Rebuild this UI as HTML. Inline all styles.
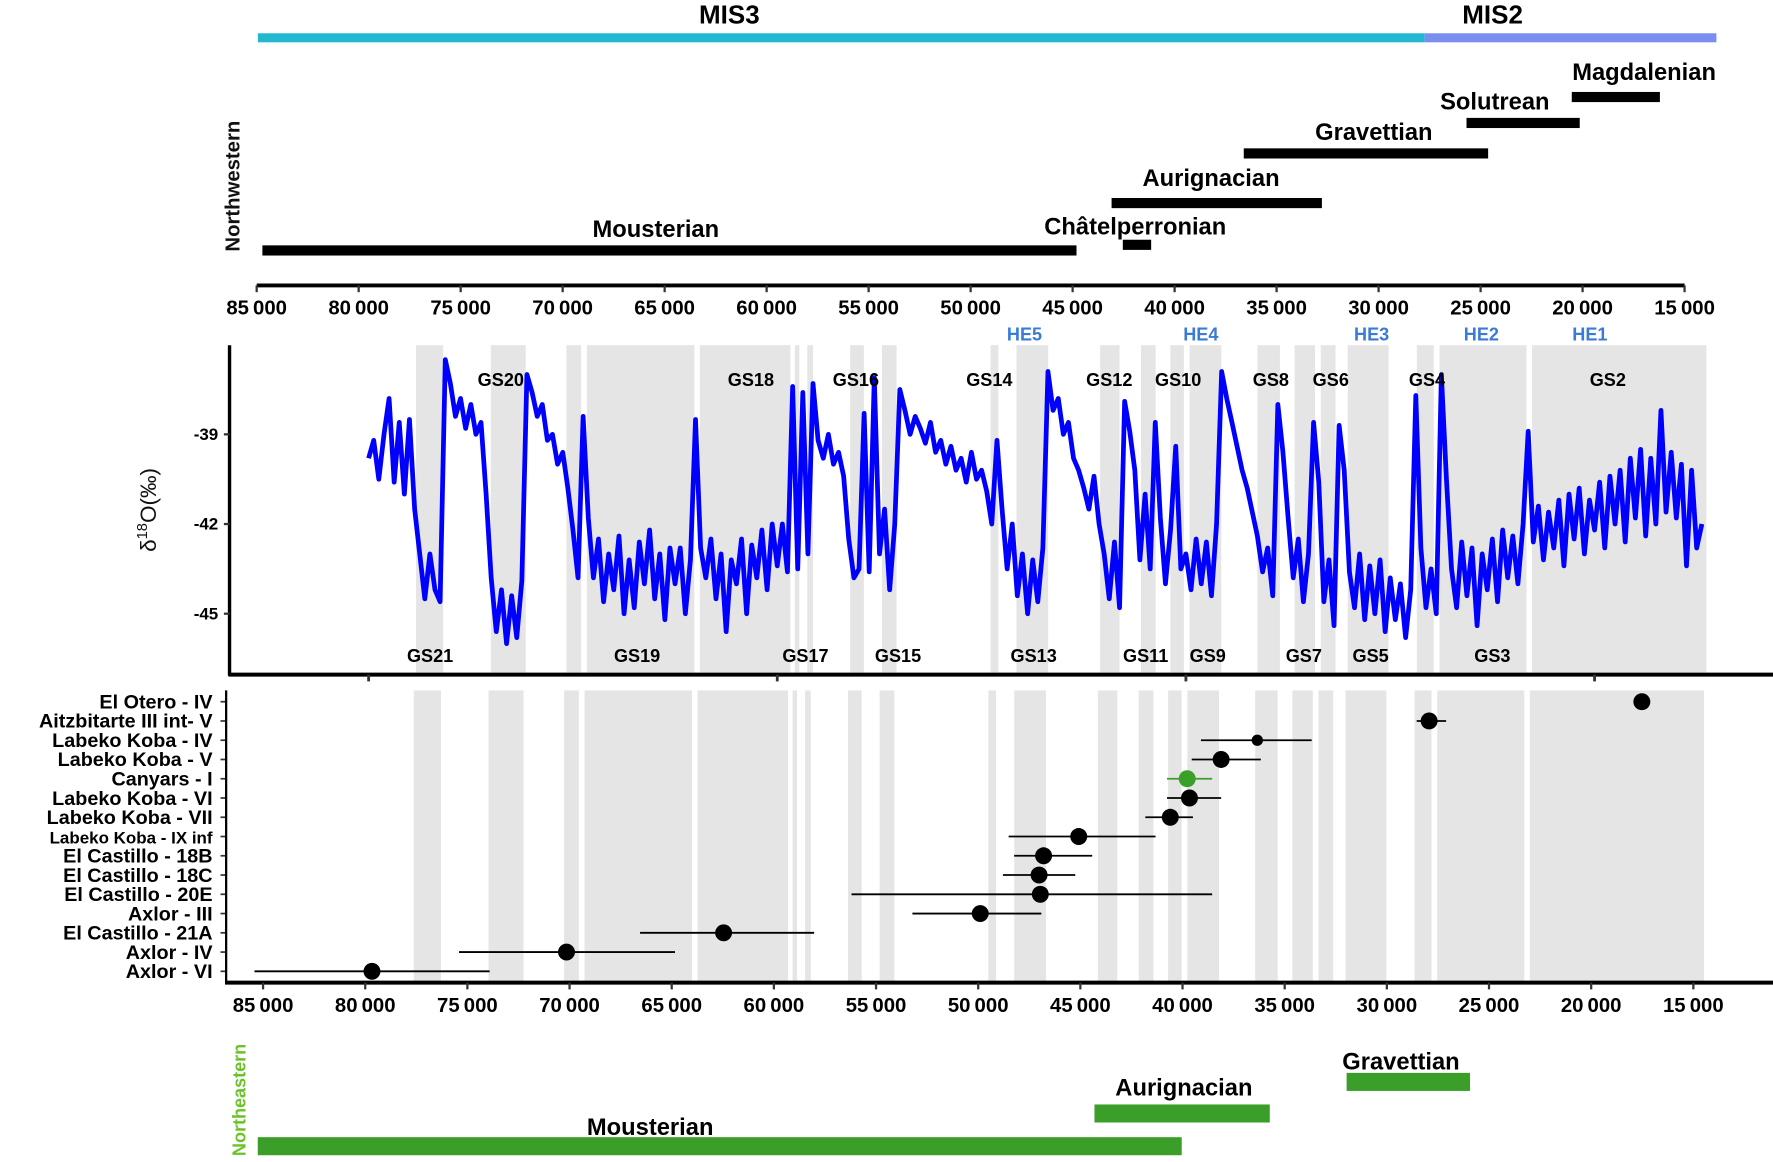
<!DOCTYPE html>
<html><head><meta charset="utf-8">
<style>
html,body{margin:0;padding:0;background:#fff;}
svg{display:block;font-family:"Liberation Sans",Arial,sans-serif;}
</style></head>
<body>
<svg id="fig" width="1773" height="1162" viewBox="0 0 1568 1030" preserveAspectRatio="none" xmlns="http://www.w3.org/2000/svg">
  <g id="gtop"></g>
  <g id="gmid"></g>
  <g id="gbot"></g>
  <g id="gne"></g>
</svg>
<script>
// ---------- data ----------
const misNames = ["MIS3","MIS2"];
const misStart = [84.94, 27.74];
const misEnd = [27.74, 13.44];
const misColors = ["#22b8d0","#7a8ef0"];

const nwCultures = ["Mousterian","Châtelperronian","Aurignacian","Gravettian","Solutrean","Magdalenian"];
const nwStart = [84.72, 42.54, 43.09, 36.61, 25.69, 20.53];
const nwEnd = [44.81, 41.15, 32.78, 24.63, 20.14, 16.21];

const topTicks = [85,80,75,70,65,60,55,50,45,40,35,30,25,20,15];
const midTicks = [80,60,40,20];
const yTicks = [-39,-42,-45];

const bandStart = [77.68,74.02,70.32,69.32,63.79,59.14,58.53,56.43,54.88,49.56,48.29,44.20,42.20,40.76,39.82,36.50,34.68,33.40,32.08,28.70,27.59,23.06];
const bandEnd   = [76.35,72.31,69.60,64.06,59.36,58.92,58.25,55.76,54.16,49.18,46.74,43.25,41.48,40.10,38.27,35.40,33.68,32.68,30.08,27.87,23.33,14.53];

const gsTop = ["GS20","GS18","GS16","GS14","GS12","GS10","GS8","GS6","GS4","GS2"];
const gsTopAge = [73.53,61.29,56.15,49.62,43.75,40.38,35.84,32.91,28.20,19.35];
const gsBot = ["GS21","GS19","GS17","GS15","GS13","GS11","GS9","GS7","GS5","GS3"];
const gsBotAge = [76.99,66.86,58.62,54.09,47.45,41.97,38.93,34.23,30.96,25.0];
const heNames = ["HE5","HE4","HE3","HE2","HE1"];
const heAge = [47.9,39.27,30.91,25.54,20.23];

const ageStartKa = 80.0, ageStepKa = 0.25;
const d18O = [
-39.8,-39.2,-40.5,-39.0, -37.8,-40.6,-38.6,-41.0, -38.5,-41.5,-43.0,-44.5, -43.0,-44.2,-44.6,-36.5,
-37.3,-38.4,-37.8,-38.8, -38.0,-39.0,-38.6,-41.0, -43.8,-45.6,-44.2,-46.0, -44.4,-45.8,-43.9,-37.0,
-37.6,-38.4,-38.0,-39.2, -39.0,-40.0,-39.6,-40.8, -42.2,-43.8,-38.4,-41.8, -43.8,-42.5,-44.6,-43.0,
-44.2,-42.4,-45.0,-43.2, -44.8,-42.6,-44.0,-42.2, -44.5,-43.0,-45.2,-42.8, -44.0,-42.8,-45.0,-43.2,
-38.5,-42.8,-43.8,-42.5, -44.5,-43.0,-45.6,-43.2, -44.0,-42.5,-45.0,-42.7, -43.8,-42.2,-44.2,-42.0,
-43.4,-42.0,-43.6,-37.4, -43.5,-37.6,-43.0,-37.3, -39.2,-39.8,-39.0,-40.0, -39.6,-40.4,-42.5,-43.8,
-43.5,-38.3,-43.6,-37.1, -43.0,-41.5,-44.2,-42.0, -37.5,-38.2,-39.0,-38.4, -38.8,-39.3,-38.6,-39.6,
-39.2,-40.0,-39.4,-40.2, -39.8,-40.6,-39.6,-40.5, -40.2,-40.9,-42.0,-39.2, -41.5,-43.5,-42.0,-44.4,
-43.0,-45.0,-43.2,-44.6, -42.8,-36.9,-38.2,-37.8, -39.0,-38.6,-39.8,-40.2, -40.8,-41.5,-40.4,-42.0,
-43.0,-44.5,-42.6,-44.8, -37.9,-38.9,-40.2,-43.2, -41.0,-43.5,-38.6,-41.8, -44.0,-42.2,-39.4,-43.5,
-43.0,-44.2,-42.5,-44.0, -42.6,-44.4,-42.0,-36.9, -37.8,-38.6,-39.4,-40.2, -40.8,-41.6,-42.4,-43.6,
-42.8,-44.4,-38.0,-39.6, -41.8,-43.8,-42.5,-44.6, -43.0,-38.6,-40.6,-44.6, -43.2,-45.4,-38.7,-40.2,
-43.6,-44.8,-43.0,-45.2, -43.4,-45.0,-43.2,-45.6, -43.8,-45.2,-44.0,-45.8, -44.2,-37.7,-42.8,-44.8,
-43.5,-45.0,-37.0,-40.5, -43.5,-44.8,-42.6,-44.4, -42.8,-45.4,-43.0,-44.2, -42.5,-44.6,-42.2,-43.8,
-42.4,-44.0,-42.0,-38.9, -42.6,-41.4,-43.2,-41.6, -42.8,-41.2,-43.4,-41.0, -42.5,-40.8,-43.0,-41.2,
-42.2,-40.6,-42.8,-40.4, -42.0,-40.2,-42.6,-39.8, -41.8,-39.5,-42.4,-39.8, -42.0,-38.2,-41.6,-39.6,
-41.8,-40.0,-43.4,-40.2, -42.8,-42.0
];

const siteNames = ["El Otero - IV","Aitzbitarte III int- V","Labeko Koba - IV","Labeko Koba - V","Canyars - I","Labeko Koba - VI","Labeko Koba - VII","Labeko Koba - IX inf","El Castillo - 18B","El Castillo - 18C","El Castillo - 20E","Axlor - III","El Castillo - 21A","Axlor - IV","Axlor - VI"];
const siteAge = [17.52,27.93,36.34,38.11,39.77,39.66,40.60,45.08,46.80,47.02,46.96,49.90,62.46,70.15,79.67];
const siteLo  = [17.52,28.54,39.10,39.55,40.76,40.76,41.82,48.51,48.24,48.79,56.20,53.22,66.55,75.41,85.42];
const siteHi  = [17.52,27.10,33.68,36.17,38.55,38.11,39.49,41.32,44.42,45.25,38.55,46.91,58.03,64.84,73.91];
const siteGreen = [false,false,false,false,true,false,false,false,false,false,false,false,false,false,false];
const siteSmall = [false,false,true,false,false,false,false,false,false,false,false,false,false,false,false];

const neCultures = ["Mousterian","Aurignacian","Gravettian"];
const neStart = [85.26, 44.31, 31.97];
const neEnd = [40.04, 35.73, 25.93];
const bottomTicks = [85,80,75,70,65,60,55,50,45,40,35,30,25,20,15];

// ---------- helpers ----------
const NS = "http://www.w3.org/2000/svg";
function mk(tag, parent, attrs, text){
  const e = document.createElementNS(NS, tag);
  for (const k in attrs) e.setAttribute(k, attrs[k]);
  if (text !== undefined) e.textContent = text;
  parent.appendChild(e);
  return e;
}
const Xt = ka => 227 + (85 - ka) * 18.04;
const Xm = ka => 326 + (80 - ka) * 18.07;
const Ym = v => 385 + (-39 - v) * 26.5;
const Xb = ka => 323 + (80 - ka) * 18.07;
const fmt = k => (k*1000).toString().replace(/(\d+)(\d{3})$/, "$1\u2009$2");
const BOLD = {"font-weight":"bold","fill":"#000"};

// ---------- top panel ----------
const gTop = document.getElementById("gtop");
misNames.forEach((n,i)=>{
  const r = mk("rect", gTop, {x:Xt(misStart[i]), y:29.5, width:Xt(misEnd[i])-Xt(misStart[i]), height:8, fill:misColors[i]});
  
  
  const t = mk("text", gTop, {x:(i===0?645:1320), y:21, "text-anchor":"middle", "font-size":23, ...BOLD}, n);
  
  
});
const nwBarY = [222, 217, 180, 136, 109, 86];
const nwLab = [[580,210],[1004,208],[1071,165],[1215,124],[1322,97],[1454,71]];
nwCultures.forEach((n,i)=>{
  const r = mk("rect", gTop, {x:Xt(nwStart[i]), y:nwBarY[i]-4.5, width:Xt(nwEnd[i])-Xt(nwStart[i]), height:9, fill:"#000"});
  
  
  const t = mk("text", gTop, {x:nwLab[i][0], y:nwLab[i][1], "text-anchor":"middle", "font-size":21, ...BOLD}, n);
  
  
});
const nwt = mk("text", gTop, {x:0,y:0,transform:"translate(212,165) rotate(-90)","text-anchor":"middle","font-size":18,"font-weight":"bold",fill:"#111"}, "Northwestern");


const tax = mk("line", gTop, {x1:Xt(85), x2:Xt(15), y1:253, y2:253, stroke:"#000","stroke-width":3.5});


topTicks.forEach(k=>{
  const l = mk("line", gTop, {x1:Xt(k), x2:Xt(k), y1:253, y2:259, stroke:"#333","stroke-width":2});
  
  
  const t = mk("text", gTop, {x:Xt(k), y:279, "text-anchor":"middle","font-size":18, ...BOLD}, fmt(k));
  
  
});

// ---------- middle panel ----------
const gMid = document.getElementById("gmid");
bandStart.forEach((s,i)=>{
  const r = mk("rect", gMid, {x:Xm(s), y:306, width:Xm(bandEnd[i])-Xm(s), height:290, fill:"#e5e5e5"});
  
  
});
const pts = d18O.map((v,i)=> Xm(ageStartKa - i*ageStepKa).toFixed(1)+","+Ym(v).toFixed(1)).join(" ");
const seriesLine = mk("polyline", gMid, {points:pts, fill:"none", stroke:"#0000ff","stroke-width":4.2,"stroke-linejoin":"round"});


gsTop.forEach((n,i)=>{
  const t = mk("text", gMid, {x:Xm(gsTopAge[i]), y:342, "text-anchor":"middle","font-size":16, ...BOLD}, n);
  
  
});
gsBot.forEach((n,i)=>{
  const t = mk("text", gMid, {x:Xm(gsBotAge[i]), y:587, "text-anchor":"middle","font-size":16, ...BOLD}, n);
  
  
});
heNames.forEach((n,i)=>{
  const t = mk("text", gMid, {x:Xm(heAge[i]), y:302, "text-anchor":"middle","font-size":16,"font-weight":"bold",fill:"#3a7bd5"}, n);
  
  
});
const yax = mk("line", gMid, {x1:203,x2:203,y1:306,y2:599,stroke:"#000","stroke-width":3});


const mxax = mk("line", gMid, {x1:202,x2:1568,y1:598,y2:598,stroke:"#000","stroke-width":3.5});


midTicks.forEach(k=>{
  const l = mk("line", gMid, {x1:Xm(k),x2:Xm(k),y1:598,y2:604,stroke:"#333","stroke-width":2.5});
  
  
});
yTicks.forEach(v=>{
  const l = mk("line", gMid, {x1:198,x2:203,y1:Ym(v),y2:Ym(v),stroke:"#333","stroke-width":2});
  
  
  const t = mk("text", gMid, {x:193,y:Ym(v)+5,"text-anchor":"end","font-size":15, ...BOLD}, String(v));
  
  
});
const yt = mk("text", gMid, {x:0,y:0,transform:"translate(138,452) rotate(-90)","text-anchor":"middle","font-size":20,fill:"#111"});


yt.innerHTML = 'δ<tspan font-size="13" dy="-8">18</tspan><tspan dy="8">O(‰)</tspan>';

// ---------- bottom panel ----------
const gBot = document.getElementById("gbot");
const rowY = i => 622 + i * 17.07;
bandStart.forEach((s,i)=>{
  const r = mk("rect", gBot, {x:Xb(s)+1, y:612, width:Xb(bandEnd[i])-Xb(s), height:258, fill:"#e5e5e5"});
  
  
});
siteNames.forEach((n,i)=>{
  const y = rowY(i);
  const l = mk("line", gBot, {x1:Xb(siteLo[i]),x2:Xb(siteHi[i]),y1:y,y2:y,stroke:siteGreen[i]?"#3aa02a":"#000","stroke-width":1.6});
  
  
  const c = mk("circle", gBot, {cx:Xb(siteAge[i]), cy:y, r:siteSmall[i]?5:7.5, fill:siteGreen[i]?"#3aa02a":"#000"});
  
  
  const tk = mk("line", gBot, {x1:195,x2:200,y1:y,y2:y,stroke:"#333","stroke-width":1.5});
  
  
  const t = mk("text", gBot, {x:188,y:y+6,"text-anchor":"end","font-size":(i===7?15:17.5), ...BOLD}, n);
  
  
});
const byax = mk("line", gBot, {x1:200,x2:200,y1:612,y2:872,stroke:"#000","stroke-width":2});


const bxax = mk("line", gBot, {x1:199,x2:1568,y1:871,y2:871,stroke:"#000","stroke-width":3.5});


bottomTicks.forEach(k=>{
  const l = mk("line", gBot, {x1:Xb(k),x2:Xb(k),y1:871,y2:877,stroke:"#333","stroke-width":2});
  
  
  const t = mk("text", gBot, {x:Xb(k),y:897,"text-anchor":"middle","font-size":18, ...BOLD}, fmt(k));
  
  
});

// ---------- northeastern panel ----------
const gNe = document.getElementById("gne");
const neBarY = [1016, 987, 959];
const neLab = [[575,1006],[1047,971],[1239,948]];
neCultures.forEach((n,i)=>{
  const r = mk("rect", gNe, {x:Xb(neStart[i]), y:neBarY[i]-8, width:Xb(neEnd[i])-Xb(neStart[i]), height:16, fill:"#3a9e28"});
  
  
  const t = mk("text", gNe, {x:neLab[i][0], y:neLab[i][1], "text-anchor":"middle","font-size":21, ...BOLD}, n);
  
  
});
const net = mk("text", gNe, {x:0,y:0,transform:"translate(217,975) rotate(-90)","text-anchor":"middle","font-size":16,"font-weight":"bold",fill:"#6cc22a"}, "Northeastern");


</script>
</body></html>
